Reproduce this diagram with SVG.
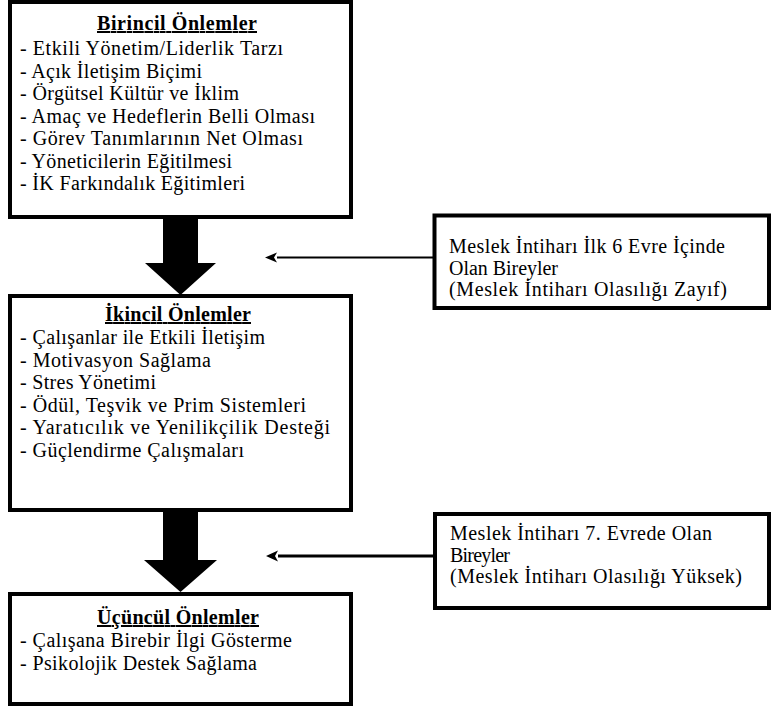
<svg xmlns="http://www.w3.org/2000/svg" width="771" height="713" viewBox="0 0 771 713">
<style>
.box{fill:#fff;stroke:#000;stroke-width:4}
text{font-family:"Liberation Serif","Times New Roman",serif;font-size:20px;fill:#000}
.t{font-weight:bold;text-decoration:underline;text-anchor:middle}
.c{stroke:#000;fill:none}
.big{fill:#000}
</style>
<g id="connectors">
<polygon class="big" points="163,217 198,217 198,263 216,263 180.5,295 145,263 163,263"/>
<polygon class="big" points="163,510 198,510 198,560 217,560 180.5,592 144,560 163,560"/>
<line class="c" x1="433" y1="257.5" x2="277" y2="257.5" stroke-width="2.2"/>
<path d="M277,252.5 L265,257.5 L277,262.5 L274,257.5 Z" fill="#000"/>
<line class="c" x1="433" y1="556" x2="278" y2="556" stroke-width="3"/>
<path d="M278,550.5 L266,556 L278,561.5 L275,556 Z" fill="#000"/>
</g>
<g id="birincil">
<rect class="box" x="10" y="2" width="341" height="215"/>
<text class="t" x="177" y="30" textLength="160">Birincil Önlemler</text>
<text x="20" y="55" textLength="263">- Etkili Yönetim/Liderlik Tarzı</text>
<text x="20" y="77.5" textLength="182">- Açık İletişim Biçimi</text>
<text x="20" y="100" textLength="219">- Örgütsel Kültür ve İklim</text>
<text x="20" y="122.5" textLength="295">- Amaç ve Hedeflerin Belli Olması</text>
<text x="20" y="145" textLength="283">- Görev Tanımlarının Net Olması</text>
<text x="20" y="167.5" textLength="212">- Yöneticilerin Eğitilmesi</text>
<text x="20" y="190" textLength="225">- İK Farkındalık Eğitimleri</text>
</g>
<g id="ikincil">
<rect class="box" x="10" y="296" width="341" height="214"/>
<text class="t" x="178" y="321" textLength="146">İkincil Önlemler</text>
<text x="20" y="344" textLength="245">- Çalışanlar ile Etkili İletişim</text>
<text x="20" y="366.6" textLength="191">- Motivasyon Sağlama</text>
<text x="20" y="389.2" textLength="136">- Stres Yönetimi</text>
<text x="20" y="411.8" textLength="286">- Ödül, Teşvik ve Prim Sistemleri</text>
<text x="20" y="434.4" textLength="310">- Yaratıcılık ve Yenilikçilik Desteği</text>
<text x="20" y="457" textLength="224">- Güçlendirme Çalışmaları</text>
</g>
<g id="ucuncul">
<rect class="box" x="10" y="594" width="341" height="110"/>
<text class="t" x="178" y="624" textLength="162">Üçüncül Önlemler</text>
<text x="20" y="647" textLength="272">- Çalışana Birebir İlgi Gösterme</text>
<text x="20" y="670" textLength="237">- Psikolojik Destek Sağlama</text>
</g>
<g id="evre6">
<rect class="box" x="434.5" y="215.5" width="334.5" height="92.5"/>
<text x="449" y="253" textLength="276">Meslek İntiharı İlk 6 Evre İçinde</text>
<text x="449" y="274.5" textLength="109">Olan Bireyler</text>
<text x="449" y="296" textLength="278">(Meslek İntiharı Olasılığı Zayıf)</text>
</g>
<g id="evre7">
<rect class="box" x="435" y="514" width="334" height="94"/>
<text x="450" y="540" textLength="262">Meslek İntiharı 7. Evrede Olan</text>
<text x="450" y="561.5" textLength="60">Bireyler</text>
<text x="450" y="583" textLength="292">(Meslek İntiharı Olasılığı Yüksek)</text>
</g>
</svg>
